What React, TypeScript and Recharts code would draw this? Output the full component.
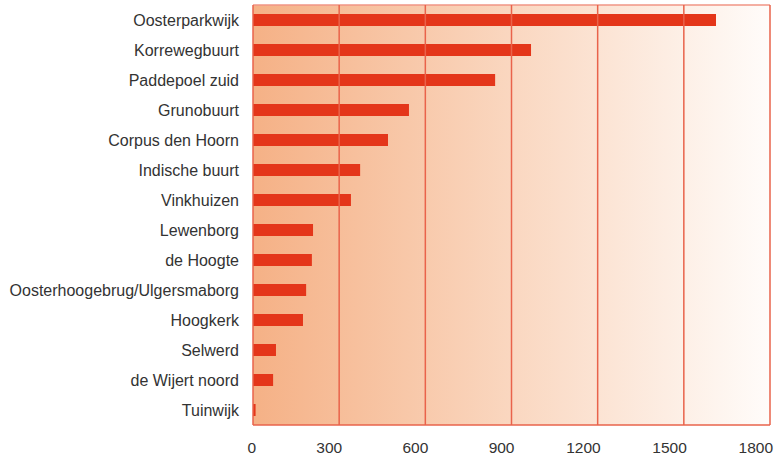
import { Bar, BarChart, CartesianGrid, ReferenceLine, XAxis, YAxis } from 'recharts';

const wijken = [
  'Oosterparkwijk',
  'Korrewegbuurt',
  'Paddepoel zuid ',
  'Grunobuurt',
  'Corpus den Hoorn',
  'Indische buurt',
  'Vinkhuizen ',
  'Lewenborg',
  'de Hoogte',
  'Oosterhoogebrug/Ulgersmaborg',
  'Hoogkerk',
  'Selwerd',
  'de Wijert noord',
  'Tuinwijk',
];

const aantallen = [1612, 968, 843, 543, 470, 373, 341, 209, 205, 185, 174, 80, 70, 9];

const xTicks = [0, 300, 600, 900, 1200, 1500, 1800];
const gridLines = [300, 600, 900, 1200, 1500];

const RED = '#e4361a';
const LINE = '#e9634b';
const FONT = 'Liberation Sans, Arial, sans-serif';

export default function App() {
  const data = wijken.map((wijk, i) => ({ wijk, aantal: aantallen[i] }));

  return (
    <div style={{ position: 'absolute', left: 0, top: 0, width: 778, height: 456 }}>
      <BarChart
        width={778}
        height={456}
        data={data}
        layout="vertical"
        margin={{ top: 5, right: 8, left: 0, bottom: 0 }}
        barCategoryGap={0}
      >
        <defs>
          <linearGradient id="achtergrond" x1="0" y1="0" x2="1" y2="0">
            <stop offset="0%" stopColor="#f5b186" />
            <stop offset="50%" stopColor="#fad7c0" />
            <stop offset="100%" stopColor="#fffcfa" />
          </linearGradient>
        </defs>
        <CartesianGrid
          xAxisId="v"
          fill="url(#achtergrond)"
          fillOpacity={1}
          vertical={false}
          stroke="#f09484"
          strokeWidth={1.5}
          horizontalCoordinatesGenerator={({ offset }: any) => [offset.top]}
        />
        <XAxis
          xAxisId="v"
          type="number"
          domain={[0, 1800]}
          ticks={xTicks}
          interval={0}
          tickLine={false}
          tickSize={0}
          tickMargin={17}
          axisLine={{ stroke: LINE, strokeWidth: 1.5 }}
          tick={{ fill: '#333', fontSize: 15.5, fontFamily: FONT, textAnchor: 'end', dx: 3 }}
          height={31}
        />
        <YAxis
          type="category"
          dataKey="wijk"
          width={253}
          axisLine={false}
          tickLine={false}
          tickSize={0}
          tickMargin={14}
          interval={0}
          tick={{ fill: '#333', fontSize: 16, fontFamily: FONT }}
        />
        {gridLines.map((v) => (
          <ReferenceLine key={v} xAxisId="v" x={v} stroke={LINE} strokeWidth={1.5} />
        ))}
        <ReferenceLine xAxisId="v" x={0} stroke={LINE} strokeWidth={1.5} />
        <ReferenceLine xAxisId="v" x={1800} stroke={LINE} strokeWidth={1.5} />
        <Bar xAxisId="v" dataKey="aantal" fill={RED} barSize={12} isAnimationActive={false} />
      </BarChart>
    </div>
  );
}
